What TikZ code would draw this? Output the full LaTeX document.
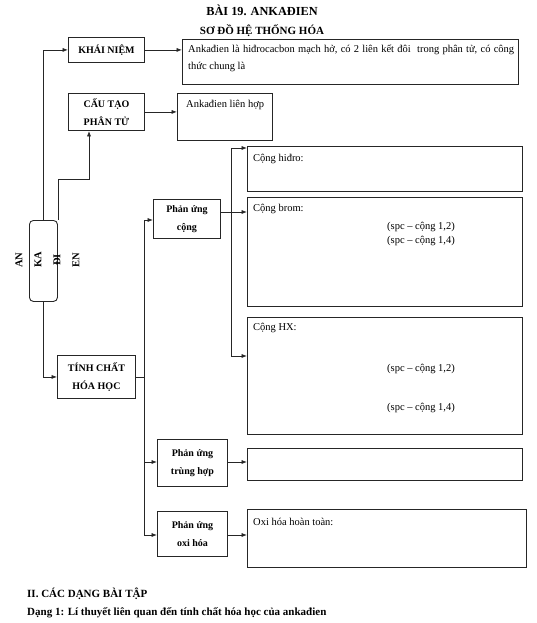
\documentclass[tikz,border=0pt]{standalone}
\usepackage{fontspec}
\setmainfont{Liberation Serif}
\usetikzlibrary{arrows.meta}
\begin{document}
\begin{tikzpicture}[x=1pt,y=-1pt,
  box/.style={draw=black!85, line width=0.9pt, rectangle, inner sep=0pt, anchor=north west},
  lbl/.style={align=center, font=\bfseries\fontsize{10}{17.5}\selectfont},
  txt/.style={anchor=base west, inner sep=0pt, font=\fontsize{10.5}{12}\selectfont},
  vlet/.style={rotate=90, inner sep=0pt, font=\bfseries\fontsize{10.5}{11}\selectfont},
  conn/.style={draw=black!85, line width=0.8pt},
  arr/.style={conn, -{Latex[length=5.5pt,width=4.2pt]}},
]
\useasboundingbox (0,0) rectangle (537,623);

% titles
\node[font=\bfseries\fontsize{12.3}{14}\selectfont] (t1) at (262,10) {BÀI 19. ANKAĐIEN};
\node[font=\bfseries\fontsize{11}{13}\selectfont] (t2) at (262,31) {SƠ ĐỒ HỆ THỐNG HÓA};

% left column
\node[box, lbl, minimum width=76pt, minimum height=25pt] (kn) at (68,37) {KHÁI NIỆM};
\node[box, lbl, minimum width=76pt, minimum height=37pt] (ct) at (68,93) {CẤU TẠO\\PHÂN TỬ};
\node[box, rounded corners=4pt, minimum width=28pt, minimum height=81pt] (ad) at (29,220) {};
\node[vlet] (l1) at (19,260) {AN};
\node[vlet] (l2) at (38,260) {KA};
\node[vlet] (l3) at (57,260) {ĐI};
\node[vlet] (l4) at (76,260) {EN};
\node[box, lbl, minimum width=78pt, minimum height=43pt] (tc) at (57,355) {TÍNH CHẤT\\HÓA HỌC};

% reaction boxes
\node[box, lbl, minimum width=67pt, minimum height=39pt] (pc) at (153,199) {Phản ứng\\cộng};
\node[box, lbl, minimum width=70pt, minimum height=47pt] (th) at (157,439) {Phản ứng\\trùng hợp};
\node[box, lbl, minimum width=70pt, minimum height=45pt] (ox) at (157,511) {Phản ứng\\oxi hóa};

% content boxes
\node[box, minimum width=336pt, minimum height=45pt] (def) at (182,39) {};
\node[box, minimum width=95pt, minimum height=47pt] (lh) at (177,93) {};
\node[box, minimum width=275pt, minimum height=45pt] (hd) at (247,146) {};
\node[box, minimum width=275pt, minimum height=109pt] (br) at (247,197) {};
\node[box, minimum width=275pt, minimum height=117pt] (hx) at (247,317) {};
\node[box, minimum width=275pt, minimum height=32pt] (thr) at (247,448) {};
\node[box, minimum width=279pt, minimum height=58pt] (oxr) at (247,509) {};

% texts
\node[txt] (d1) at (188,53) {\makebox[326pt][s]{Ankađien là hiđrocacbon mạch hở, có 2 liên kết đôi \ trong phân tử, có công}};
\node[txt] (d2) at (188,70) {thức chung là};
\node[txt] (lht) at (186,107) {Ankađien liên hợp};
\node[txt] (hdt) at (253,161) {Cộng hiđro:};
\node[txt] (brt) at (253,211) {Cộng brom:};
\node[txt] (brs1) at (387,229) {(spc – cộng 1,2)};
\node[txt] (brs2) at (387,243) {(spc – cộng 1,4)};
\node[txt] (hxt) at (253,330) {Cộng HX:};
\node[txt] (hxs1) at (387,371) {(spc – cộng 1,2)};
\node[txt] (hxs2) at (387,410) {(spc – cộng 1,4)};
\node[txt] (oxt) at (253,525) {Oxi hóa hoàn toàn:};

% bottom texts
\node[anchor=base west, inner sep=0pt, font=\bfseries\fontsize{11}{13}\selectfont] (b1t) at (27,597) {II. CÁC DẠNG BÀI TẬP};
\node[anchor=base west, inner sep=0pt, font=\bfseries\fontsize{11}{13}\selectfont] (b2t) at (27,615) {Dạng 1: Lí thuyết liên quan đến tính chất hóa học của ankađien};

% connectors
\draw[arr] (ad.north) |- (kn.west);
\draw[arr] (ad.north east) -- ++(0,-41) -| ([xshift=21pt]ct.south west);
\draw[arr] (ad.south) |- (tc.west);
\draw[arr] (kn.east) -- (kn.east -| def.west);
\draw[arr] (ct.east) -- (ct.east -| lh.west);

\coordinate (bA) at (144,220);
\coordinate (bB) at (144,462);
\coordinate (bC) at (144,535);
\draw[conn] (tc.east) -- (tc.east -| bA);
\draw[conn] (bA) -- (bC);
\draw[arr] (bA) -- (bA -| pc.west);
\draw[arr] (bB) -- (bB -| th.west);
\draw[arr] (bC) -- (bC -| ox.west);
\draw[arr] (bB -| th.east) -- (bB -| thr.west);
\draw[arr] (bC -| ox.east) -- (bC -| oxr.west);

\coordinate (cA) at (231,148);
\coordinate (cB) at (231,212);
\coordinate (cC) at (231,356);
\draw[conn] (cA) -- (cC);
\draw[conn] (cB -| pc.east) -- (cB);
\draw[arr] (cA) -- (cA -| hd.west);
\draw[arr] (cB) -- (cB -| br.west);
\draw[arr] (cC) -- (cC -| hx.west);
\end{tikzpicture}
\end{document}
